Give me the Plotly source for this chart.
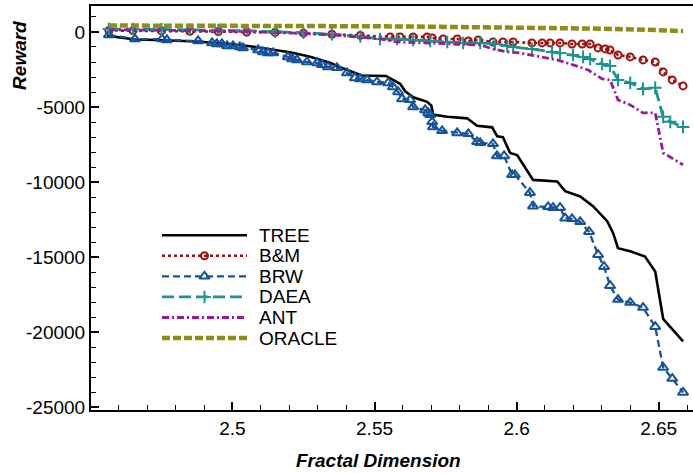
import plotly.graph_objects as go

# ---- data: reward vs. fractal dimension for each method ----
tree_x = [2.4558, 2.4657, 2.4762, 2.4886, 2.4991, 2.5062, 2.5132, 2.5202, 2.5273, 2.5343,
          2.5379, 2.5431, 2.5455, 2.5540, 2.5565, 2.5590, 2.5608, 2.5636, 2.5685, 2.5700,
          2.5706, 2.5756, 2.5826, 2.5861, 2.5914, 2.5932, 2.5952, 2.5977, 2.6002, 2.6058,
          2.6143, 2.6171, 2.6224, 2.6269, 2.6319, 2.6340, 2.6357, 2.6400, 2.6452, 2.6488,
          2.6516, 2.6586]
tree_y = [-250, -500, -550, -650, -800, -950, -1150, -1350, -1650, -2050,
          -2350, -2750, -2900, -2930, -3200, -3450, -3950, -4350, -4650, -4900,
          -5500, -5650, -5750, -6250, -6350, -6950, -7000, -8050, -8200, -9850,
          -9950, -10600, -10950, -11600, -12600, -13400, -14400, -14600, -14950, -15950,
          -19100, -20600]

bm_x = [2.4565, 2.4650, 2.4750, 2.4850, 2.4950, 2.5050, 2.5150, 2.5250, 2.5350, 2.5450,
        2.5555, 2.5590, 2.5636, 2.5685, 2.5703, 2.5741, 2.5791, 2.5830, 2.5865, 2.5917,
        2.5952, 2.5988, 2.6054, 2.6090, 2.6118, 2.6153, 2.6195, 2.6231, 2.6259, 2.6287,
        2.6312, 2.6329, 2.6357, 2.6400, 2.6445, 2.6488, 2.6516, 2.6548, 2.6586]
bm_y = [100, 90, 70, 50, 30, 0, -30, -80, -150, -230,
        -330, -330, -330, -330, -400, -465, -465, -600, -530, -665,
        -665, -665, -730, -730, -730, -730, -800, -800, -800, -1060,
        -1130, -1200, -1530, -1660, -1860, -2000, -2660, -3190, -3590]

brw_x = [2.4565, 2.4657, 2.4752, 2.4769, 2.4879, 2.4928, 2.4945, 2.4963, 2.4981, 2.5002,
         2.5026, 2.5037, 2.5090, 2.5107, 2.5125, 2.5143, 2.5195, 2.5210, 2.5227, 2.5262,
         2.5298, 2.5315, 2.5336, 2.5368, 2.5403, 2.5431, 2.5449, 2.5474, 2.5509, 2.5548,
         2.5565, 2.5583, 2.5597, 2.5625, 2.5636, 2.5678, 2.5689, 2.5696, 2.5703, 2.5706,
         2.5738, 2.5791, 2.5830, 2.5861, 2.5872, 2.5917, 2.5931, 2.5956, 2.5984, 2.5994,
         2.6047, 2.6058, 2.6111, 2.6128, 2.6153, 2.6171, 2.6195, 2.6224, 2.6255, 2.6287,
         2.6308, 2.6329, 2.6357, 2.6400, 2.6445, 2.6488, 2.6516, 2.6548, 2.6586]
brw_y = [-200, -470, -470, -530, -600, -730, -800, -800, -930, -930,
         -1000, -1060, -1200, -1330, -1400, -1400, -1660, -1800, -1860, -2000,
         -2060, -2190, -2330, -2390, -2730, -3060, -3125, -3190, -3325, -3390,
         -3660, -3990, -4455, -4520, -4990, -5190, -5390, -5520, -5985, -6320,
         -6580, -6720, -6780, -7315, -7380, -7450, -8250, -8250, -9510, -9510,
         -10700, -11600, -11640, -11700, -11700, -12400, -12440, -12640, -13300, -14830,
         -15630, -16890, -17820, -18020, -18350, -19620, -22340, -23080, -24000]

daea_x = [2.4565, 2.4650, 2.4750, 2.4850, 2.4950, 2.5050, 2.5150, 2.5250, 2.5350, 2.5450,
          2.5519, 2.5579, 2.5636, 2.5696, 2.5756, 2.5812, 2.5872, 2.5924, 2.5967, 2.5988,
          2.6054, 2.6125, 2.6153, 2.6199, 2.6234, 2.6259, 2.6301, 2.6329, 2.6357, 2.6400,
          2.6445, 2.6488, 2.6516, 2.6541, 2.6586]
daea_y = [200, 190, 170, 150, 120, 80, 30, -50, -150, -300,
          -465, -465, -530, -600, -665, -730, -730, -800, -930, -1000,
          -1130, -1330, -1400, -1530, -1660, -1800, -2130, -2260, -3190, -3390,
          -3790, -3720, -5650, -5985, -6320]

ant_x = [2.4565, 2.4650, 2.4750, 2.4850, 2.4950, 2.5050, 2.5150, 2.5250, 2.5350, 2.5450,
         2.5519, 2.5579, 2.5696, 2.5812, 2.5872, 2.5917, 2.5967, 2.6012, 2.6083, 2.6143,
         2.6199, 2.6252, 2.6301, 2.6329, 2.6357, 2.6400, 2.6445, 2.6488, 2.6516, 2.6551,
         2.6586]
ant_y = [150, 140, 120, 100, 70, 30, -20, -100, -200, -330,
         -465, -665, -730, -800, -865, -1130, -1330, -1400, -1660, -1860,
         -2190, -2530, -3125, -3190, -4520, -4855, -5390, -5390, -8050, -8450,
         -8845]

oracle_x = [2.4565, 2.4700, 2.4900, 2.5100, 2.5300, 2.5500, 2.5700, 2.5900, 2.6100, 2.6300,
            2.6450, 2.6586]
oracle_y = [430, 430, 420, 410, 400, 380, 350, 320, 280, 220, 150, 60]

# ---- axis ticks ----
x_tick_vals = [2.5, 2.55, 2.6, 2.65]
x_tick_text = ["2.5", "2.55", "2.6", "2.65"]
y_tick_vals = [0, -5000, -10000, -15000, -20000, -25000]
y_tick_text = ["0", "-5000", "-10000", "-15000", "-20000", "-25000"]

FONT = "Liberation Sans, Arial, Helvetica, sans-serif"

series = [
    dict(name="TREE", x=tree_x, y=tree_y, color="#000000", width=2.6, dash="solid",
         symbol=None),
    dict(name="B&M", x=bm_x, y=bm_y, color="#a0100f", width=2.6, dash="3px,3px",
         symbol="circle-open", msize=7),
    dict(name="BRW", x=brw_x, y=brw_y, color="#15539c", width=2.3, dash="7px,4px",
         symbol="triangle-up-open", msize=9),
    dict(name="DAEA", x=daea_x, y=daea_y, color="#1a9490", width=2.8, dash="12px,5px",
         symbol="cross-thin-open", msize=9),
    dict(name="ANT", x=ant_x, y=ant_y, color="#9a1a9a", width=2.8, dash="7px,3px,2px,3px",
         symbol=None),
    dict(name="ORACLE", x=oracle_x, y=oracle_y, color="#8e8e16", width=4.5, dash="8px,3px",
         symbol=None),
]

fig = go.Figure()

for s in series:
    mode = "lines+markers" if s["symbol"] else "lines"
    marker = dict(symbol=s["symbol"], size=s.get("msize", 6), color=s["color"],
                  line=dict(color=s["color"], width=2)) if s["symbol"] else None
    fig.add_trace(go.Scatter(
        x=s["x"], y=s["y"], name=s["name"], mode=mode,
        line=dict(color=s["color"], width=s["width"], dash=s["dash"]),
        marker=marker, showlegend=False, hoverinfo="skip"))

# ---- hand-drawn legend on a pixel-scaled overlay axis ----
leg_x0, leg_x1, leg_text_x = 162, 247, 257
leg_row0, leg_step = 235.5, 20.6
for i, s in enumerate(series):
    ry = leg_row0 + i * leg_step
    fig.add_trace(go.Scatter(
        x=[leg_x0, leg_x1], y=[ry, ry], xaxis="x2", yaxis="y2", mode="lines",
        line=dict(color=s["color"], width=s["width"], dash=s["dash"]),
        showlegend=False, hoverinfo="skip"))
    if s["symbol"]:
        fig.add_trace(go.Scatter(
            x=[(leg_x0 + leg_x1) / 2], y=[ry], xaxis="x2", yaxis="y2", mode="markers",
            marker=dict(symbol=s["symbol"], size=s.get("msize", 6), color=s["color"],
                        line=dict(color=s["color"], width=2)),
            showlegend=False, hoverinfo="skip"))
    fig.add_annotation(x=leg_text_x, y=ry, xref="x2", yref="y2", text=s["name"],
                       showarrow=False, xanchor="left", yanchor="middle",
                       font=dict(family=FONT, size=19, color="#000000"))

axis_font = dict(family=FONT, size=19, color="#000000")

fig.update_layout(
    width=693, height=473,
    margin=dict(l=91, r=0, t=6, b=62.5, pad=0),
    paper_bgcolor="white", plot_bgcolor="white",
    showlegend=False,
    xaxis=dict(
        range=[2.4502, 2.6621], showgrid=False, zeroline=False,
        showline=True, linecolor="#000000", linewidth=2, mirror=True,
        ticks="inside", ticklen=8, tickwidth=1.5, tickcolor="#000000",
        tickvals=x_tick_vals, ticktext=x_tick_text, tickfont=axis_font,
        minor=dict(dtick=0.01, tick0=2.45, ticks="inside", ticklen=5, tickwidth=1,
                   tickcolor="#000000", showgrid=False),
    ),
    yaxis=dict(
        range=[-25170, 1729], showgrid=False, zeroline=False,
        showline=True, linecolor="#000000", linewidth=2, mirror=False,
        ticks="inside", ticklen=8, tickwidth=1.5, tickcolor="#000000",
        tickvals=y_tick_vals, ticktext=y_tick_text, tickfont=axis_font,
        minor=dict(dtick=1000, tick0=0, ticks="inside", ticklen=5, tickwidth=1,
                   tickcolor="#000000", showgrid=False),
    ),
    xaxis2=dict(range=[91, 693], overlaying="x", visible=False, domain=[0, 1]),
    yaxis2=dict(range=[410.5, 6], overlaying="y", visible=False, domain=[0, 1]),
)

# axis titles
fig.add_annotation(x=(378 - 91) / 602, y=-0.125, xref="paper", yref="paper",
                   text="Fractal Dimension", showarrow=False,
                   xanchor="center", yanchor="middle",
                   font=dict(family=FONT, size=19, color="#000000",
                             weight="bold", style="italic"))
fig.add_annotation(x=-0.118, y=(410.5 - 55) / 404.5, xref="paper", yref="paper",
                   text="Reward", showarrow=False, textangle=-90,
                   xanchor="center", yanchor="middle",
                   font=dict(family=FONT, size=19, color="#000000",
                             weight="bold", style="italic"))

fig.write_html("out.html")
